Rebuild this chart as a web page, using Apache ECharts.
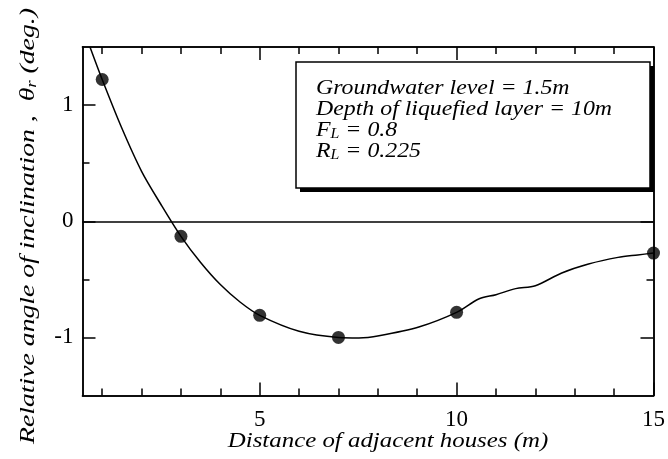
<!DOCTYPE html>
<html>
<head>
<meta charset="utf-8">
<script src="https://cdn.jsdelivr.net/npm/echarts@6/dist/echarts.min.js"></script>
<style>
  html, body { margin: 0; padding: 0; background: #fff; }
  #chart { width: 668px; height: 459px; }
</style>
</head>
<body>
<div id="chart"></div>
<script>
// Measured inclination at each house spacing
const distances = [1, 3, 5, 7, 10, 15];
const angles = [1.22, -0.13, -0.81, -1.0, -0.784, -0.274];

// Fitted curve through the measurements
const curveX = [0.69, 1.0, 1.5, 2.0, 2.5, 3.0, 3.5, 4.0, 4.5, 5.0, 6.0, 7.0, 7.52, 8.03, 9.04, 10.0, 10.56, 11.0, 11.5, 12.0, 12.67, 13.35, 14.1, 14.6, 15.0];
const curveY = [1.5, 1.22, 0.80, 0.43, 0.14, -0.13, -0.355, -0.545, -0.695, -0.81, -0.947, -1.0, -1.004, -0.985, -0.91, -0.784, -0.669, -0.632, -0.58, -0.555, -0.445, -0.368, -0.311, -0.29, -0.274];

// Axis ticks
const xLabels = [5, 10, 15];
const xMajor = [5, 10, 15];
const xMinor = [1, 2, 3, 4, 6, 7, 8, 9, 11, 12, 13, 14];
const yLabels = [-1, 0, 1];
const yMajor = [-1, 0, 1];
const yMinor = [-0.5, 0.5];

const serif = "'Liberation Serif', 'Times New Roman', serif";
const ink = '#000';

function makeX(pos, ticks, len, labels) {
  return {
    type: 'value', position: pos, min: 0.5, max: 15, interval: 0.5,
    axisLine: { show: true, onZero: false, lineStyle: { color: ink, width: 1.5 } },
    axisTick: { show: true, inside: true, length: len, customValues: ticks, lineStyle: { color: ink, width: 1.5 } },
    axisLabel: {
      show: labels, margin: 13, color: ink, fontFamily: serif, fontSize: 23,
      formatter: v => (xLabels.indexOf(v) >= 0 ? String(v) : '')
    },
    splitLine: { show: false }
  };
}
function makeY(pos, ticks, len, labels) {
  return {
    type: 'value', position: pos, min: -1.5, max: 1.5, interval: 0.5,
    axisLine: { show: true, onZero: false, lineStyle: { color: ink, width: 1.5 } },
    axisTick: { show: true, inside: true, length: len, customValues: ticks, lineStyle: { color: ink, width: 1.5 } },
    axisLabel: {
      show: labels, margin: 9, color: ink, fontFamily: serif, fontSize: 23,
      formatter: v => (yLabels.indexOf(v) >= 0 ? String(v) : '')
    },
    splitLine: { show: false }
  };
}

const chart = echarts.init(document.getElementById('chart'), null, { renderer: 'canvas' });

const legendLines = [
  'Groundwater level = 1.5m',
  'Depth of liquefied layer = 10m',
  '{m|F}{s|L}{m| = 0.8}',
  '{m|R}{s|L}{m| = 0.225}'
];

chart.setOption({
  animation: false,
  backgroundColor: '#fff',
  textStyle: { fontFamily: serif, color: ink },
  grid: { left: 82.5, right: 12, top: 47, bottom: 63.5, containLabel: false },
  xAxis: [
    makeX('bottom', xMajor, 13, true),
    makeX('bottom', xMinor, 7, false),
    makeX('top', xMajor, 13, false),
    makeX('top', xMinor, 7, false)
  ],
  yAxis: [
    makeY('left', yMajor, 13, true),
    makeY('left', yMinor, 7, false),
    makeY('right', yMajor, 13, false),
    makeY('right', yMinor, 7, false)
  ],
  series: [
    {
      type: 'line',
      data: curveX.map((x, i) => [x, curveY[i]]),
      smooth: 0.3,
      showSymbol: false,
      clip: true,
      lineStyle: { color: ink, width: 1.5 },
      markLine: {
        silent: true,
        symbol: 'none',
        label: { show: false },
        lineStyle: { color: ink, width: 1.5, type: 'solid' },
        data: [{ yAxis: 0 }]
      },
      z: 2
    },
    {
      type: 'scatter',
      data: distances.map((x, i) => [x, angles[i]]),
      symbol: 'circle',
      symbolSize: 13,
      itemStyle: { color: ink },
      z: 3
    }
  ],
  graphic: [
    { type: 'rect', shape: { x: 300, y: 66, width: 354, height: 126 }, style: { fill: ink }, z: 10 },
    { type: 'rect', shape: { x: 296, y: 62, width: 354, height: 126 }, style: { fill: '#fff', stroke: ink, lineWidth: 1.5 }, z: 11 },
    {
      type: 'text', x: 316, y: 78, scaleX: 1.135, z: 12,
      style: {
        text: legendLines.join('\n'),
        fontFamily: serif, fontStyle: 'italic', fontSize: 21, lineHeight: 21, fill: ink,
        rich: {
          m: { fontFamily: serif, fontStyle: 'italic', fontSize: 21, lineHeight: 21, fill: ink },
          s: { fontFamily: serif, fontStyle: 'italic', fontSize: 14, lineHeight: 21, fill: ink, verticalAlign: 'bottom', padding: [8, 0, 0, 0] }
        }
      }
    },
    {
      type: 'text', x: 388, y: 441, scaleX: 1.13, z: 12,
      style: {
        text: 'Distance of adjacent houses (m)',
        fontFamily: serif, fontStyle: 'italic', fontSize: 22, fill: ink,
        align: 'center', verticalAlign: 'middle'
      }
    },
    {
      type: 'text', x: 28, y: 226, rotation: Math.PI / 2, scaleX: 1.26, z: 12,
      style: {
        text: '{m|Relative angle of inclination ,  θ}{s|r}{m| (deg.)}',
        align: 'center', verticalAlign: 'middle',
        rich: {
          m: { fontFamily: serif, fontStyle: 'italic', fontSize: 22, lineHeight: 24, fill: ink },
          s: { fontFamily: serif, fontStyle: 'italic', fontSize: 15, lineHeight: 24, fill: ink, verticalAlign: 'bottom', padding: [8, 0, 0, 0] }
        }
      }
    }
  ]
});
</script>
</body>
</html>
